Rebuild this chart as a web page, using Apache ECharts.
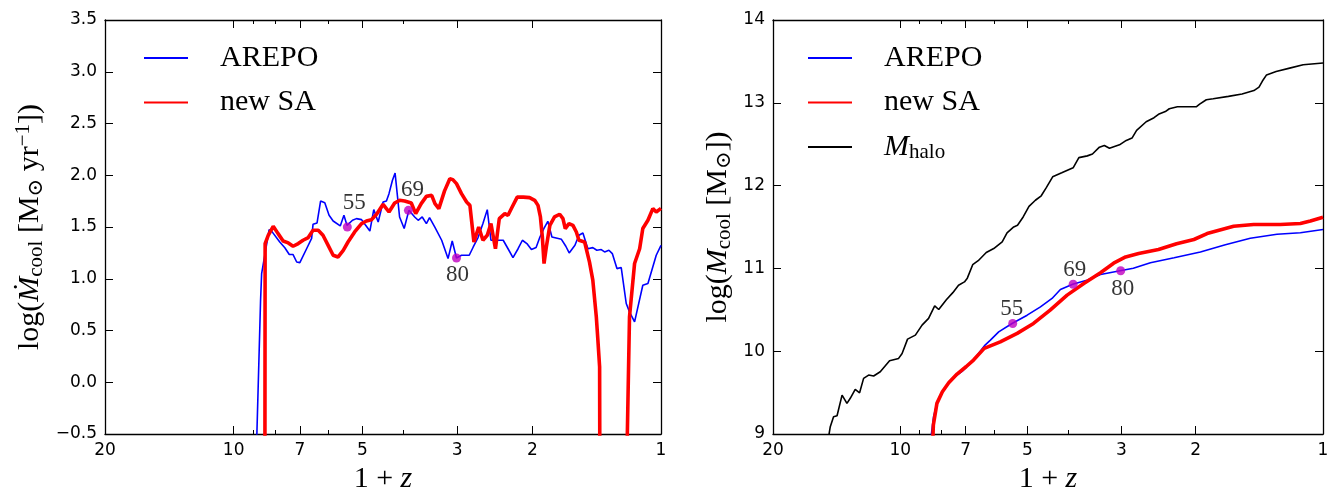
<!DOCTYPE html>
<html><head><meta charset="utf-8">
<script src="https://cdn.jsdelivr.net/npm/echarts@6/dist/echarts.min.js"></script>
<style>html,body{margin:0;padding:0;background:#fff}#c{width:1342px;height:500px}</style>
</head><body><div id="c"></div>
<script>
// ---- data (x = 1+z, y = value) ----
const xTickValues = [20, 10, 7, 5, 3, 2, 1];
const xMinorTickValues = [9, 8, 6, 4];
const snapshotLabels = ['55', '69', '80'];
const snapshotX = [5.42, 3.90, 3.01];
const snapshotRateY = [1.50, 1.661, 1.201];
const snapshotMassY = [10.335, 10.809, 10.972];

const arepoRate = [[9.03,-2],[8.65,0.79],[8.60,1.05],[8.26,1.475],[8.15,1.46],[7.80,1.355],[7.59,1.30],[7.41,1.234],[7.26,1.234],[7.12,1.162],[7.00,1.156],[6.75,1.29],[6.57,1.39],[6.52,1.526],[6.38,1.539],[6.26,1.751],[6.12,1.735],[5.98,1.613],[5.85,1.558],[5.63,1.51],[5.52,1.613],[5.43,1.516],[5.27,1.565],[5.16,1.581],[5.02,1.571],[4.91,1.516],[4.80,1.461],[4.70,1.668],[4.59,1.548],[4.47,1.741],[4.39,1.751],[4.33,1.822],[4.25,1.951],[4.19,2.021],[4.09,1.597],[3.99,1.485],[3.89,1.661],[3.77,1.597],[3.70,1.565],[3.62,1.597],[3.54,1.533],[3.48,1.591],[3.38,1.497],[3.26,1.372],[3.15,1.195],[3.08,1.365],[3.01,1.201],[2.93,1.227],[2.81,1.227],[2.75,1.307],[2.68,1.398],[2.61,1.533],[2.55,1.668],[2.50,1.372],[2.41,1.372],[2.34,1.372],[2.28,1.29],[2.22,1.205],[2.16,1.29],[2.11,1.372],[2.06,1.34],[2.01,1.282],[1.96,1.301],[1.92,1.403],[1.88,1.485],[1.84,1.555],[1.80,1.403],[1.71,1.381],[1.67,1.314],[1.64,1.249],[1.59,1.323],[1.556,1.42],[1.523,1.442],[1.483,1.29],[1.444,1.301],[1.413,1.275],[1.380,1.282],[1.355,1.259],[1.324,1.275],[1.300,1.243],[1.268,1.098],[1.239,1.108],[1.206,0.761],[1.185,0.68],[1.153,0.583],[1.103,0.937],[1.073,0.954],[1.026,1.227],[1.0,1.323]];

const newSARate = [[8.46,-3],[8.44,1.34],[8.30,1.42],[8.08,1.507],[7.87,1.436],[7.66,1.365],[7.45,1.346],[7.26,1.314],[7.06,1.34],[6.88,1.372],[6.69,1.398],[6.52,1.468],[6.34,1.468],[6.18,1.42],[6.01,1.323],[5.85,1.227],[5.70,1.21],[5.54,1.275],[5.40,1.355],[5.21,1.452],[5.02,1.533],[4.89,1.558],[4.76,1.571],[4.63,1.623],[4.47,1.719],[4.33,1.645],[4.20,1.732],[4.09,1.758],[3.98,1.751],[3.84,1.732],[3.75,1.629],[3.64,1.726],[3.54,1.796],[3.44,1.806],[3.38,1.726],[3.31,1.678],[3.21,1.849],[3.12,1.967],[3.07,1.958],[3.01,1.919],[2.93,1.822],[2.85,1.741],[2.80,1.709],[2.74,1.355],[2.67,1.50],[2.61,1.372],[2.55,1.42],[2.50,1.533],[2.44,1.29],[2.39,1.581],[2.32,1.629],[2.28,1.613],[2.23,1.693],[2.17,1.789],[2.10,1.789],[2.03,1.784],[1.975,1.758],[1.94,1.709],[1.915,1.597],[1.895,1.403],[1.878,1.147],[1.855,1.307],[1.82,1.516],[1.775,1.597],[1.726,1.623],[1.696,1.581],[1.675,1.485],[1.642,1.533],[1.607,1.516],[1.578,1.452],[1.556,1.372],[1.509,1.355],[1.470,1.16],[1.444,0.986],[1.417,0.631],[1.405,0.406],[1.392,0.149],[1.387,-3],[1.230,-3],[1.185,0.631],[1.153,1.147],[1.122,1.29],[1.103,1.485],[1.073,1.565],[1.045,1.678],[1.026,1.645],[1.0,1.68]];

const haloMass = [[14.90,8.85],[14.64,9.088],[14.38,9.209],[14.11,9.221],[13.73,9.47],[13.37,9.37],[13.13,9.431],[12.78,9.539],[12.48,9.498],[12.21,9.672],[11.88,9.712],[11.56,9.700],[11.15,9.752],[10.60,9.884],[10.09,9.913],[9.90,9.973],[9.61,10.146],[9.21,10.194],[8.88,10.315],[8.57,10.396],[8.29,10.548],[8.11,10.504],[7.78,10.622],[7.51,10.707],[7.28,10.797],[7.05,10.837],[6.94,10.882],[6.74,11.045],[6.54,11.093],[6.26,11.192],[6.01,11.24],[5.74,11.32],[5.59,11.428],[5.39,11.501],[5.28,11.521],[5.12,11.621],[4.96,11.75],[4.79,11.823],[4.64,11.877],[4.51,11.979],[4.36,12.106],[4.15,12.154],[3.90,12.215],[3.78,12.338],[3.61,12.359],[3.51,12.382],[3.38,12.464],[3.29,12.485],[3.20,12.451],[3.03,12.492],[2.92,12.546],[2.83,12.574],[2.76,12.668],[2.62,12.771],[2.51,12.82],[2.45,12.861],[2.36,12.894],[2.31,12.928],[2.21,12.952],[1.995,12.952],[1.958,12.984],[1.888,13.037],[1.819,13.049],[1.674,13.078],[1.554,13.107],[1.457,13.148],[1.417,13.189],[1.391,13.263],[1.360,13.337],[1.291,13.378],[1.199,13.419],[1.114,13.46],[1.0,13.48]];

const arepoMass = [[8.50,8.6],[8.44,9.0],[8.34,9.209],[8.19,9.37],[7.95,9.51],[7.68,9.619],[7.34,9.712],[7.13,9.76],[6.71,9.893],[6.30,10.074],[6.12,10.134],[5.85,10.234],[5.44,10.335],[5.01,10.435],[4.66,10.536],[4.375,10.637],[4.18,10.745],[3.91,10.809],[3.62,10.858],[3.36,10.926],[3.02,10.972],[2.81,11.002],[2.56,11.069],[2.25,11.129],[1.95,11.199],[1.702,11.286],[1.486,11.364],[1.285,11.413],[1.131,11.431],[1.0,11.47]];

const newSAMass = [[8.42,8.6],[8.35,9.109],[8.19,9.37],[7.95,9.51],[7.68,9.619],[7.34,9.724],[6.99,9.812],[6.71,9.893],[6.33,10.034],[5.80,10.113],[5.29,10.215],[4.84,10.335],[4.42,10.496],[4.03,10.677],[3.68,10.818],[3.36,10.948],[3.128,11.063],[2.93,11.139],[2.73,11.18],[2.45,11.228],[2.22,11.298],[2.02,11.349],[1.88,11.421],[1.627,11.509],[1.459,11.53],[1.262,11.53],[1.131,11.542],[1.071,11.573],[1.0,11.618]];

// ---- rendering ----
const SERIF = "'Liberation Serif', 'DejaVu Serif', serif";
const SANS = "'DejaVu Sans', sans-serif";
const LMAX = Math.log10(20);
const lg = v => Math.log10(v);
const toXY = arr => arr.map(p => [Math.log10(p[0]), p[1]]);
const SPINE = {show: true, onZero: false, lineStyle: {color: '#000', width: 1.3}};
const NOLINE = {show: false, onZero: false};
const TICKSTYLE = {color: '#000', width: 1};

const nameStyle = {
  fontFamily: SERIF, fontSize: 30, color: '#000',
  rich: {
    it: {fontFamily: SERIF, fontSize: 30, fontStyle: 'italic', color: '#000'},
    sub: {fontFamily: SERIF, fontSize: 21, color: '#000', padding: [13, 0, 0, 0]},
    sup: {fontFamily: SERIF, fontSize: 21, color: '#000', padding: [0, 0, 13, 0]}
  }
};

function makeXAxes(g) {
  const base = {gridIndex: g, type: 'value', min: 0, max: LMAX, inverse: true, splitLine: {show: false}};
  return [
    Object.assign({}, base, {
      position: 'bottom', axisLine: SPINE,
      axisTick: {show: true, inside: true, length: 8, customValues: xTickValues.map(lg), lineStyle: TICKSTYLE},
      axisLabel: {show: true, customValues: xTickValues.map(lg), formatter: v => String(Math.round(Math.pow(10, v))),
        fontFamily: SANS, fontSize: 17, color: '#000', margin: 8},
      name: '1 + {it|z}', nameLocation: 'middle', nameGap: 27, nameTextStyle: nameStyle
    }),
    Object.assign({}, base, {
      position: 'bottom', axisLine: NOLINE,
      axisTick: {show: true, inside: true, length: 4, customValues: xMinorTickValues.map(lg), lineStyle: TICKSTYLE},
      axisLabel: {show: false}
    }),
    Object.assign({}, base, {
      position: 'top', axisLine: SPINE,
      axisTick: {show: true, inside: true, length: 8, customValues: xTickValues.map(lg), lineStyle: TICKSTYLE},
      axisLabel: {show: false}
    }),
    Object.assign({}, base, {
      position: 'top', axisLine: NOLINE,
      axisTick: {show: true, inside: true, length: 4, customValues: xMinorTickValues.map(lg), lineStyle: TICKSTYLE},
      axisLabel: {show: false}
    })
  ];
}

function makeYAxes(g, min, max, interval, fmt, name, nameGap) {
  return [
    {gridIndex: g, type: 'value', position: 'left', min, max, interval, axisLine: SPINE,
     axisTick: {show: true, inside: true, length: 8, lineStyle: TICKSTYLE},
     axisLabel: {formatter: fmt, fontFamily: SANS, fontSize: 17, color: '#000', margin: 8},
     splitLine: {show: false}, name, nameLocation: 'middle', nameRotate: 90, nameGap, nameTextStyle: nameStyle},
    {gridIndex: g, type: 'value', position: 'right', min, max, interval, axisLine: SPINE,
     axisTick: {show: true, inside: true, length: 8, lineStyle: TICKSTYLE},
     axisLabel: {show: false}, splitLine: {show: false}}
  ];
}

const rateFmt = v => (v < 0 ? '\u2212' : '') + Math.abs(v).toFixed(1);
const massFmt = v => String(Math.round(v));

function lineSeries(name, data, color, width, xi, yi, z) {
  return {name, type: 'line', data: toXY(data), xAxisIndex: xi, yAxisIndex: yi, symbol: 'none', showSymbol: false,
    lineStyle: {color, width}, itemStyle: {color}, clip: true, z, silent: true, animation: false};
}

const leftLabelOffsets = [[7, -24], [4, -20], [1, 17]];
const rightLabelOffsets = [[-1, -15], [1.5, -14], [2, 18.5]];
function snapSeries(ys, offsets, xi, yi) {
  return {name: 'snapshots', type: 'scatter', xAxisIndex: xi, yAxisIndex: yi, symbol: 'circle', symbolSize: 9,
    itemStyle: {color: '#bf00bf'}, z: 10, silent: true, animation: false,
    data: snapshotX.map((x, i) => ({value: [lg(x), ys[i]], name: snapshotLabels[i],
      label: {show: true, position: 'inside', offset: offsets[i], formatter: snapshotLabels[i],
        fontFamily: SERIF, fontSize: 23, color: '#000', textBorderWidth: 0}}))};
}

const legendText = {
  fontFamily: SERIF, fontSize: 30, lineHeight: 32, color: '#000', padding: [0, 0, 0, 27],
  rich: {
    it: {fontFamily: SERIF, fontSize: 30, fontStyle: 'italic', color: '#000'},
    sub: {fontFamily: SERIF, fontSize: 21, color: '#000', padding: [11, 0, 0, 0]}
  }
};
const legendBase = {orient: 'vertical', padding: 0, itemWidth: 44, itemHeight: 1, itemGap: 12.5,
  selectedMode: false, textStyle: legendText, itemStyle: {opacity: 0, borderWidth: 0}};

const chart = echarts.init(document.getElementById('c'), null, {renderer: 'canvas'});
chart.setOption({
  animation: false,
  backgroundColor: '#fff',
  grid: [
    {left: 105, top: 20, width: 556, height: 414},
    {left: 773, top: 20, width: 550, height: 414}
  ],
  xAxis: [].concat(makeXAxes(0), makeXAxes(1)),
  yAxis: [].concat(
    makeYAxes(0, -0.5, 3.5, 0.5, rateFmt, 'log({it|\u1E40}{sub|cool} [M{sub|\u2299} yr{sup|\u22121}])', 58),
    makeYAxes(1, 9, 14, 1, massFmt, 'log({it|M}{sub|cool} [M{sub|\u2299}])', 38)
  ),
  legend: [
    Object.assign({}, legendBase, {left: 143, top: 42, data: ['AREPO', 'new SA']}),
    Object.assign({}, legendBase, {left: 807, top: 42, data: ['AREPO', 'new SA', 'Mhalo'],
      formatter: n => n === 'Mhalo' ? '{it|M}{sub|halo}' : n})
  ],
  series: [
    lineSeries('AREPO', arepoRate, '#0000ff', 1.6, 0, 0, 2),
    lineSeries('new SA', newSARate, '#ff0000', 3.6, 0, 0, 3),
    snapSeries(snapshotRateY, leftLabelOffsets, 0, 0),
    lineSeries('Mhalo', haloMass, '#000000', 1.6, 4, 2, 2),
    lineSeries('AREPO', arepoMass, '#0000ff', 1.6, 4, 2, 3),
    lineSeries('new SA', newSAMass, '#ff0000', 3.6, 4, 2, 4),
    snapSeries(snapshotMassY, rightLabelOffsets, 4, 2)
  ]
});
</script></body></html>
